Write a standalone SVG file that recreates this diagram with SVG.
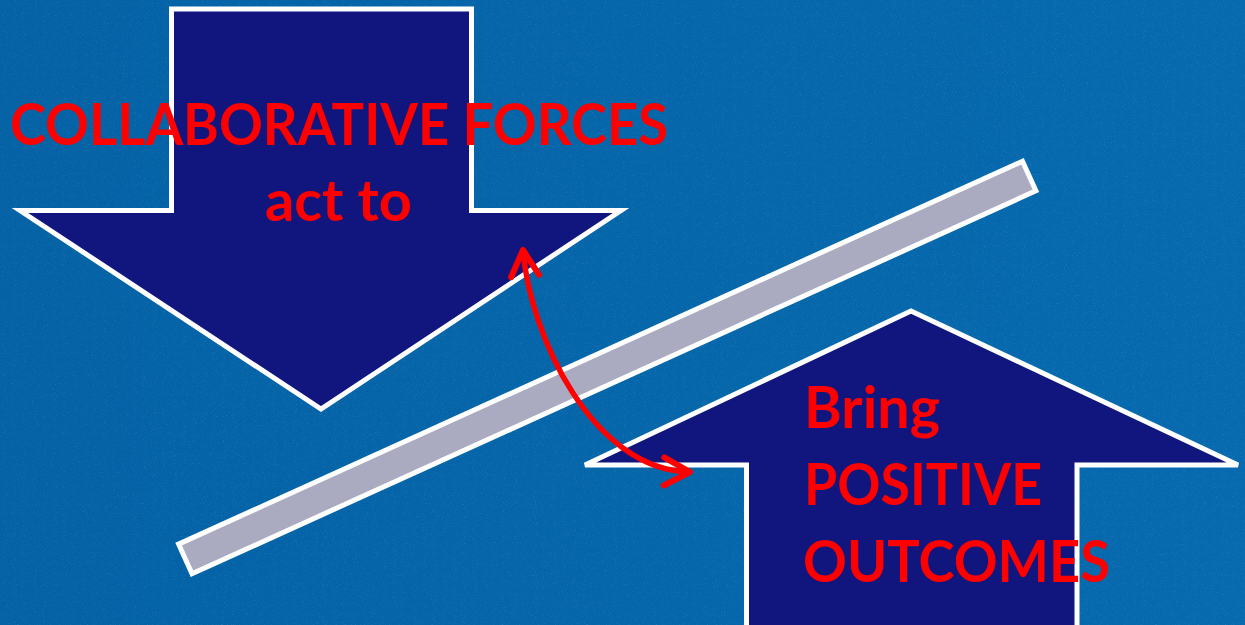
<svg xmlns="http://www.w3.org/2000/svg" width="1245" height="625" viewBox="0 0 1245 625">
  <defs>
    <linearGradient id="bg" x1="0" y1="0" x2="1" y2="0">
      <stop offset="0" stop-color="#0462a5"/>
      <stop offset="1" stop-color="#076aae"/>
    </linearGradient>
    <radialGradient id="topShade" cx="0.5" cy="0" r="0.5">
      <stop offset="0" stop-color="#0a3a78" stop-opacity="0.9"/>
      <stop offset="1" stop-color="#0a3a78" stop-opacity="0"/>
    </radialGradient>
    <filter id="speckle" x="0" y="0" width="100%" height="100%">
      <feTurbulence type="fractalNoise" baseFrequency="0.9" numOctaves="2" seed="3" result="n"/>
      <feColorMatrix in="n" type="matrix" values="0 0 0 0 0.45  0 0 0 0 0.7  0 0 0 0 1  0 0 0 1.6 -0.95"/>
    </filter>
    <marker id="chev" markerUnits="userSpaceOnUse" viewBox="-32 -20 40 40" markerWidth="40" markerHeight="40" refX="0" refY="0" orient="auto-start-reverse">
      <path d="M-26,-14 L0,0 L-26,14" fill="none" stroke="#ff0000" stroke-width="6" stroke-linecap="round" stroke-linejoin="round"/>
    </marker>
    <style>
      .shape { fill: #10167e; stroke: #ffffff; stroke-width: 5; stroke-linejoin: miter; }
      .bar { fill: #aaaac0; stroke: #ffffff; stroke-width: 5; stroke-linejoin: miter; }
      .lbl { font-family: Lato, "Liberation Sans", "DejaVu Sans", sans-serif; font-weight: bold; fill: #ff0000; font-size: 57px; }
      .conn { fill: none; stroke: #ff0000; stroke-width: 5.5; stroke-linecap: round; }
    </style>
  </defs>

  <g id="background">
    <rect x="0" y="0" width="1245" height="625" fill="url(#bg)"/>
    <rect x="0" y="0" width="1245" height="625" filter="url(#speckle)" opacity="0.3"/>
    <ellipse cx="800" cy="0" rx="380" ry="26" fill="url(#topShade)"/>
  </g>

  <g id="bar">
    <polygon class="bar" points="178.6,544.1 1022.5,161.2 1035.9,190.8 192,573.8"/>
  </g>

  <g id="down-arrow">
    <polygon class="shape" points="171.5,9 471.5,9 471.5,210.5 621,210.5 321,409 20,210.5 171.5,210.5"/>
    <text class="lbl" x="10" y="145" textLength="658" lengthAdjust="spacingAndGlyphs">COLLABORATIVE FORCES</text>
    <text class="lbl" x="265" y="221" textLength="147" lengthAdjust="spacingAndGlyphs">act to</text>
  </g>

  <g id="up-arrow">
    <polygon class="shape" points="911,311 1238,465 1077,465 1077,630 746.5,630 746.5,465 585,465"/>
    <text class="lbl" x="804" y="428" textLength="136" lengthAdjust="spacingAndGlyphs">Bring</text>
    <text class="lbl" x="804" y="505" textLength="238" lengthAdjust="spacingAndGlyphs">POSITIVE</text>
    <text class="lbl" x="803" y="582" textLength="307" lengthAdjust="spacingAndGlyphs">OUTCOMES</text>
  </g>

  <g id="connectors">
    <path class="conn" d="M523,250 C530,335 592,470 690,472" marker-start="url(#chev)" marker-end="url(#chev)"/>
  </g>
</svg>
